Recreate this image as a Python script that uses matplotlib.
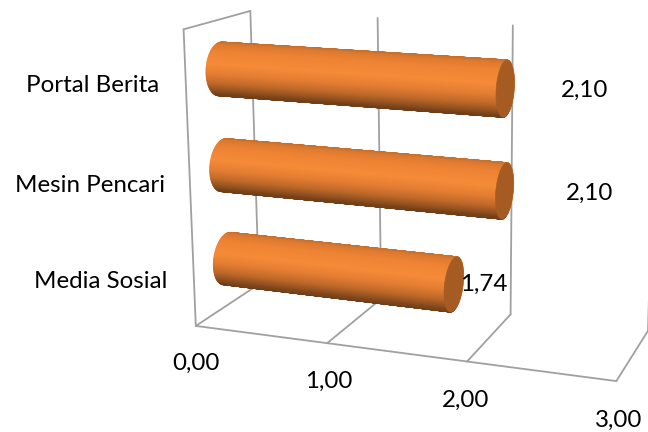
import numpy as np
import matplotlib
matplotlib.use('Agg')
import matplotlib.pyplot as plt

plt.rcParams['font.family'] = ['Lato', 'DejaVu Sans']

# chart values, bottom category first
categories = ['Media Sosial', 'Mesin Pencari', 'Portal Berita']
values = [1.74, 2.10, 2.10]
ticks = [0.0, 1.0, 2.0, 3.0]

# label anchors in figure pixels
cat_pos = [(101, 281), (90, 186), (93, 85)]
val_pos = [(484, 284), (590, 193), (585, 90)]
tick_pos = [(196, 363), (329, 381), (466, 400), (619, 420)]

# camera: known (value, depth, height) box corners and where they land
box = [(0, 0, 0), (0, 0, 1), (0, 1, 0), (0, 1, 1), (1, 0, 0), (2, 0, 0), (3, 0, 0),
       (1, 1, 0), (2, 1, 0), (3, 1, 0), (1, 1, 1), (2, 1, 1), (3, 1, 1)]
screen = [(196, 326), (183, 30), (259, 284), (250, 11), (327, 343), (467, 361), (617, 381),
          (381, 299), (510, 314), (648, 332), (378, 18), (515, 25), (655, 33)]


def fit_camera(world, px):
    A = []
    b = []
    for (x, y, z), (u, w) in zip(world, px):
        A.append([x, y, z, 1, 0, 0, 0, 0, -u * x, -u * y, -u * z])
        A.append([0, 0, 0, 0, x, y, z, 1, -w * x, -w * y, -w * z])
        b += [u, w]
    m = np.linalg.lstsq(np.array(A, float), np.array(b, float), rcond=None)[0]
    return np.append(m, 1).reshape(3, 4)


cam = fit_camera(box, screen)


def project(v, d, h):
    v, d, h = np.broadcast_arrays(v, d, h)
    p = np.stack([v, d, h, np.ones_like(v)], axis=-1).astype(float) @ cam.T
    return p[..., :2] / p[..., 2:]


# shading across the cylinder, top edge to bottom edge
shade_pos = [0.0, 0.05, 0.18, 0.42, 0.6, 0.78, 0.92, 1.0]
shade_col = ['#c4702e', '#dd7a30', '#ee8334', '#f68c39', '#e67f33', '#c06a2a', '#8f4f1f', '#6f3e18']
shade_rgb = np.array([matplotlib.colors.to_rgb(c) for c in shade_col])
cap_color = '#a65b22'
grid_color = '#a0a0a0'


def shade(s):
    return np.stack([np.interp(s, shade_pos, shade_rgb[:, i]) for i in range(3)], axis=-1)


def surface(ax, val, hc, th, rd, rh, z):
    d = 0.5 + rd * np.cos(th)
    h = hc + rh * np.sin(th)
    start = project(0, d, h)
    end = project(val, d, h)
    X = np.array([start[:, 0], end[:, 0]])
    Y = np.array([start[:, 1], end[:, 1]])

    # colour follows the position across the bar as seen on screen
    c0 = project(0, 0.5, hc)
    c1 = project(val, 0.5, hc)
    axis_dir = (c1 - c0) / np.hypot(*(c1 - c0))
    normal = np.array([-axis_dir[1], axis_dir[0]])
    ring = np.linspace(0, 2 * np.pi, 121)
    full = project(0, 0.5 + rd * np.cos(ring), hc + rh * np.sin(ring))
    reach = np.abs((full - c0) @ normal).max()
    s = (((start - c0) @ normal) / reach + 1) / 2
    col = shade(s)
    C = np.array([col, col])
    ax.pcolormesh(X, Y, C, shading='gouraud', zorder=z)


def cylinder(ax, val, hc, rd=0.21, rh=0.09):
    # far half first, near half over it, then the end cap
    surface(ax, val, hc, np.linspace(-np.pi / 2, np.pi / 2, 61), rd, rh, 3)
    surface(ax, val, hc, np.linspace(np.pi / 2, 3 * np.pi / 2, 61), rd, rh, 3.1)
    th = np.linspace(0, 2 * np.pi, 121)
    end = project(val, 0.5 + rd * np.cos(th), hc + rh * np.sin(th))
    ax.fill(end[:, 0], end[:, 1], color=cap_color, lw=0.4, zorder=4)


def seg(ax, a, b):
    p = project(*a)
    q = project(*b)
    ax.plot([p[0], q[0]], [p[1], q[1]], color=grid_color, lw=1.3, solid_capstyle='round', zorder=1)


fig = plt.figure(figsize=(6.48, 4.32), dpi=100)
ax = fig.add_axes([0, 0, 1, 1])
ax.set_xlim(0, 648)
ax.set_ylim(432, 0)
ax.axis('off')

# left wall and floor outline
seg(ax, (0, 0, 1), (0, 1, 1))
seg(ax, (0, 0, 1), (0, 0, 0))
seg(ax, (0, 0, 0), (3, 0, 0))
for t in ticks:
    seg(ax, (t, 0, 0), (t, 1, 0))
    seg(ax, (t, 1, 0), (t, 1, 1))

n = len(categories)
for i, val in enumerate(values):
    cylinder(ax, val, (i + 0.5) / n)

fs = 17.4
for name, (x, y) in zip(categories, cat_pos):
    ax.text(x, y, name, fontsize=fs, ha='center', va='center', color='black')
for val, (x, y) in zip(values, val_pos):
    ax.text(x, y, f'{val:.2f}'.replace('.', ','), fontsize=fs, ha='center', va='center', color='black', zorder=5)
for t, (x, y) in zip(ticks, tick_pos):
    ax.text(x, y, f'{t:.2f}'.replace('.', ','), fontsize=fs, ha='center', va='center', color='black')

fig.savefig('out.png', dpi=100)
